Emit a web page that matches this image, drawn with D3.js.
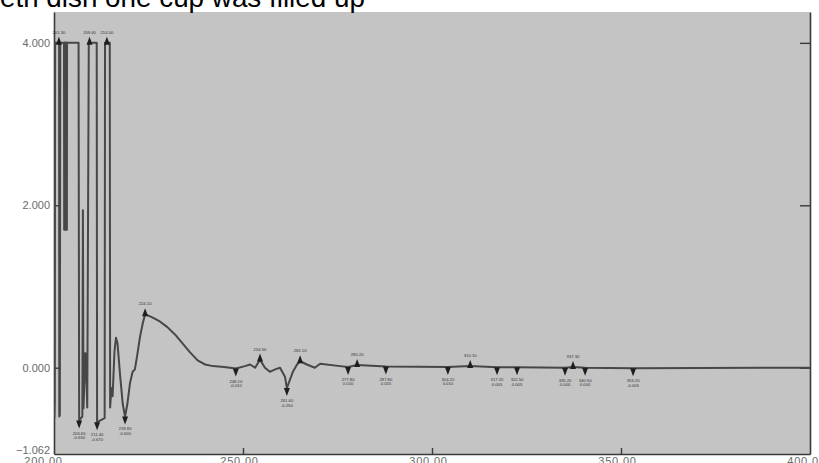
<!DOCTYPE html>
<html>
<head>
<meta charset="utf-8">
<script src="https://cdn.jsdelivr.net/npm/d3@7"></script>
<style>
  html, body { margin: 0; padding: 0; background: #fff; overflow: hidden; }
  svg { display: block; }
</style>
</head>
<body>
<svg id="chart" width="819" height="463"></svg>
<script>
// Absorbance spectrum, 200–400 nm
const titleText = "Petri dish one cup was filled up";

const wavelengths = [
  200.00, 200.10, 200.20, 200.30, 201.35, 201.40, 201.55, 201.65,
  202.65, 202.70, 202.75, 202.80, 202.85, 202.90, 202.95, 203.00, 203.05,
  203.10, 203.15, 203.20, 203.25, 203.30, 203.35, 203.40, 203.45,
  206.50, 206.65, 207.50, 207.65, 207.80, 208.30, 208.50, 208.80, 209.20,
  211.30, 211.40, 213.40, 213.50, 214.75, 214.85, 215.20, 215.50, 216.00,
  216.40, 216.80, 217.50, 218.20, 218.80, 219.40, 220.10, 220.80, 221.40,
  222.00, 222.75, 223.50, 224.10, 226.00, 228.00, 230.00, 232.00, 234.00,
  236.00, 238.00, 240.00, 242.00, 245.00, 248.10, 250.50, 251.90, 253.20,
  254.50, 255.80, 257.10, 258.50, 259.80, 261.10, 261.60, 262.40, 263.20,
  264.30, 265.10, 266.90, 269.00, 270.40, 275.70, 277.80, 280.20, 287.80,
  304.20, 310.10, 317.20, 322.50, 335.20, 337.30, 340.50, 353.20, 400.00
];

const absorbance = [
  -0.30, -0.62, -0.42, 4.00, 4.00, -0.60, -0.58, 4.00,
  4.00, 1.70, 4.00, 1.70, 4.00, 1.70, 4.00, 1.70, 4.00,
  1.70, 4.00, 1.70, 4.00, 1.70, 4.00, 1.70, 4.00,
  4.00, -0.65, -0.60, 1.94, -0.50, 0.18, 0.00, -0.49, 4.00,
  4.00, -0.67, -0.62, 4.00, 4.00, -0.49, -0.25, -0.35, 0.20,
  0.37, 0.30, -0.10, -0.45, -0.60, -0.45, -0.19, -0.05, -0.02,
  0.15, 0.38, 0.55, 0.66, 0.62, 0.57, 0.50, 0.41, 0.30,
  0.19, 0.09, 0.04, 0.02, 0.01, -0.01, 0.02, 0.04, 0.00,
  0.10, 0.00, -0.05, -0.02, 0.00, -0.11, -0.25, -0.15, -0.05,
  0.04, 0.08, 0.04, 0.00, 0.05, 0.02, 0.01, 0.035, 0.015,
  0.01, 0.02, 0.005, 0.005, 0.00, 0.01, 0.00, -0.005, 0.00
];

// Picked peaks (maxima) and valleys (minima), nm
const peakNm = [201.30, 209.40, 214.00, 224.10, 254.50, 265.10, 280.20, 310.10, 337.30];
const valleyNm = [206.65, 211.40, 218.80, 248.10, 261.60, 277.80, 287.80, 304.20, 317.20, 322.50, 335.20, 340.50, 353.20];

const xTicks = [200, 250, 300, 350, 400];
const yTicks = [4, 2, 0, -1.062];
const yRightTicks = [4, 2, 0];

const svg = d3.select("#chart");
const plot = { left: 54, right: 810, top: 12, bottom: 454 };

const x = d3.scaleLinear().domain([200, 400]).range([plot.left, plot.right]);
const y = d3.scaleLinear().domain([-1.062, 4.38]).range([plot.bottom, plot.top]);

const spectrum = wavelengths.map((w, i) => ({ nm: w, a: absorbance[i] }));
const bis = d3.bisector(d => d.nm).left;
function absAt(nm) {
  const i = Math.max(1, Math.min(spectrum.length - 1, bis(spectrum, nm)));
  const p0 = spectrum[i - 1], p1 = spectrum[i];
  const t = (nm - p0.nm) / (p1.nm - p0.nm);
  return p0.a + (p1.a - p0.a) * Math.max(0, Math.min(1, t));
}

// Plot background
svg.append("rect")
  .attr("x", plot.left).attr("y", plot.top)
  .attr("width", plot.right - plot.left).attr("height", plot.bottom - plot.top)
  .attr("fill", "#c4c4c4");

svg.append("clipPath").attr("id", "plotClip")
  .append("rect")
  .attr("x", plot.left).attr("y", plot.top)
  .attr("width", plot.right - plot.left).attr("height", plot.bottom - plot.top);

// Title (runs off the top-left edge of the page)
const titleFont = "'Liberation Sans', Arial, sans-serif";
const title = svg.append("text")
  .attr("y", 7)
  .attr("font-family", titleFont)
  .attr("font-size", 24)
  .attr("fill", "#000")
  .text(titleText);
const probe = svg.append("text")
  .attr("font-family", titleFont)
  .attr("font-size", 24)
  .text(titleText.slice(1));
const restW = probe.node().getComputedTextLength();
probe.text(titleText.slice(0, 1));
const firstW = probe.node().getComputedTextLength();
probe.remove();
const fs = 24 * 365 / restW;
title.attr("font-size", fs).attr("x", -firstW * fs / 24);

// Axes
const axisColor = "#3a3a3a";
const labelColor = "#6a6a6a";

const gLeft = svg.append("g").attr("transform", `translate(${plot.left},0)`)
  .call(d3.axisLeft(y).tickValues(yTicks).tickFormat(d3.format(".3f"))
    .tickSize(-7).tickSizeOuter(0).tickPadding(4));

const gRight = svg.append("g").attr("transform", `translate(${plot.right},0)`)
  .call(d3.axisRight(y).tickValues(yRightTicks).tickFormat("")
    .tickSize(-10).tickSizeOuter(0));

const gBottom = svg.append("g").attr("transform", `translate(0,${plot.bottom})`)
  .call(d3.axisBottom(x).tickValues(xTicks).tickFormat(d3.format(".2f"))
    .tickSize(-6).tickSizeOuter(0).tickPadding(3));

[gLeft, gRight, gBottom].forEach(g => {
  g.select(".domain").attr("stroke", axisColor).attr("stroke-width", 1.6);
  g.selectAll(".tick line").attr("stroke", axisColor).attr("stroke-width", 1.4);
  g.selectAll(".tick text")
    .attr("fill", labelColor)
    .attr("font-family", "'Liberation Sans', Arial, sans-serif")
    .attr("font-size", 11);
});
gBottom.selectAll(".tick line").filter(d => d === 200 || d === 400).remove();
gLeft.selectAll(".tick line").filter(d => d === -1.062).remove();
gBottom.selectAll(".tick text")
  .attr("letter-spacing", 0.8)
  .attr("dx", d => d === 200 ? -11 : -4);
gLeft.selectAll(".tick text")
  .attr("dy", "0.32em")
  .attr("y", d => d === -1.062 ? -4 : 0);

// Spectrum trace
const line = d3.line().x(d => x(d.nm)).y(d => y(d.a));
svg.append("path")
  .datum(spectrum)
  .attr("clip-path", "url(#plotClip)")
  .attr("d", line)
  .attr("fill", "none")
  .attr("stroke", "#474747")
  .attr("stroke-width", 2)
  .attr("stroke-linejoin", "round");

// Peak-pick markers and labels
const gMarks = svg.append("g").attr("fill", "#1e1e1e");
const labelFont = "'Liberation Sans', Arial, sans-serif";

peakNm.forEach(nm => {
  const a = absAt(nm);
  const cx = x(nm), cy = y(a);
  gMarks.append("path")
    .attr("d", `M${cx - 3},${cy + 2} L${cx + 3},${cy + 2} L${cx},${cy - 6} Z`);
  gMarks.append("text")
    .attr("x", cx).attr("y", cy - 9)
    .attr("text-anchor", "middle")
    .attr("font-family", labelFont).attr("font-size", 4.2)
    .attr("fill", "#333")
    .text(nm.toFixed(2));
});

valleyNm.forEach(nm => {
  const a = absAt(nm);
  const cx = x(nm), cy = y(a);
  gMarks.append("path")
    .attr("d", `M${cx - 3},${cy} L${cx + 3},${cy} L${cx},${cy + 8} Z`);
  const t = gMarks.append("text")
    .attr("text-anchor", "middle")
    .attr("font-family", labelFont).attr("font-size", 4.2)
    .attr("fill", "#333");
  t.append("tspan").attr("x", cx).attr("y", cy + 14).text(nm.toFixed(2));
  t.append("tspan").attr("x", cx).attr("y", cy + 18.5).text(a.toFixed(3));
});
</script>
</body>
</html>
